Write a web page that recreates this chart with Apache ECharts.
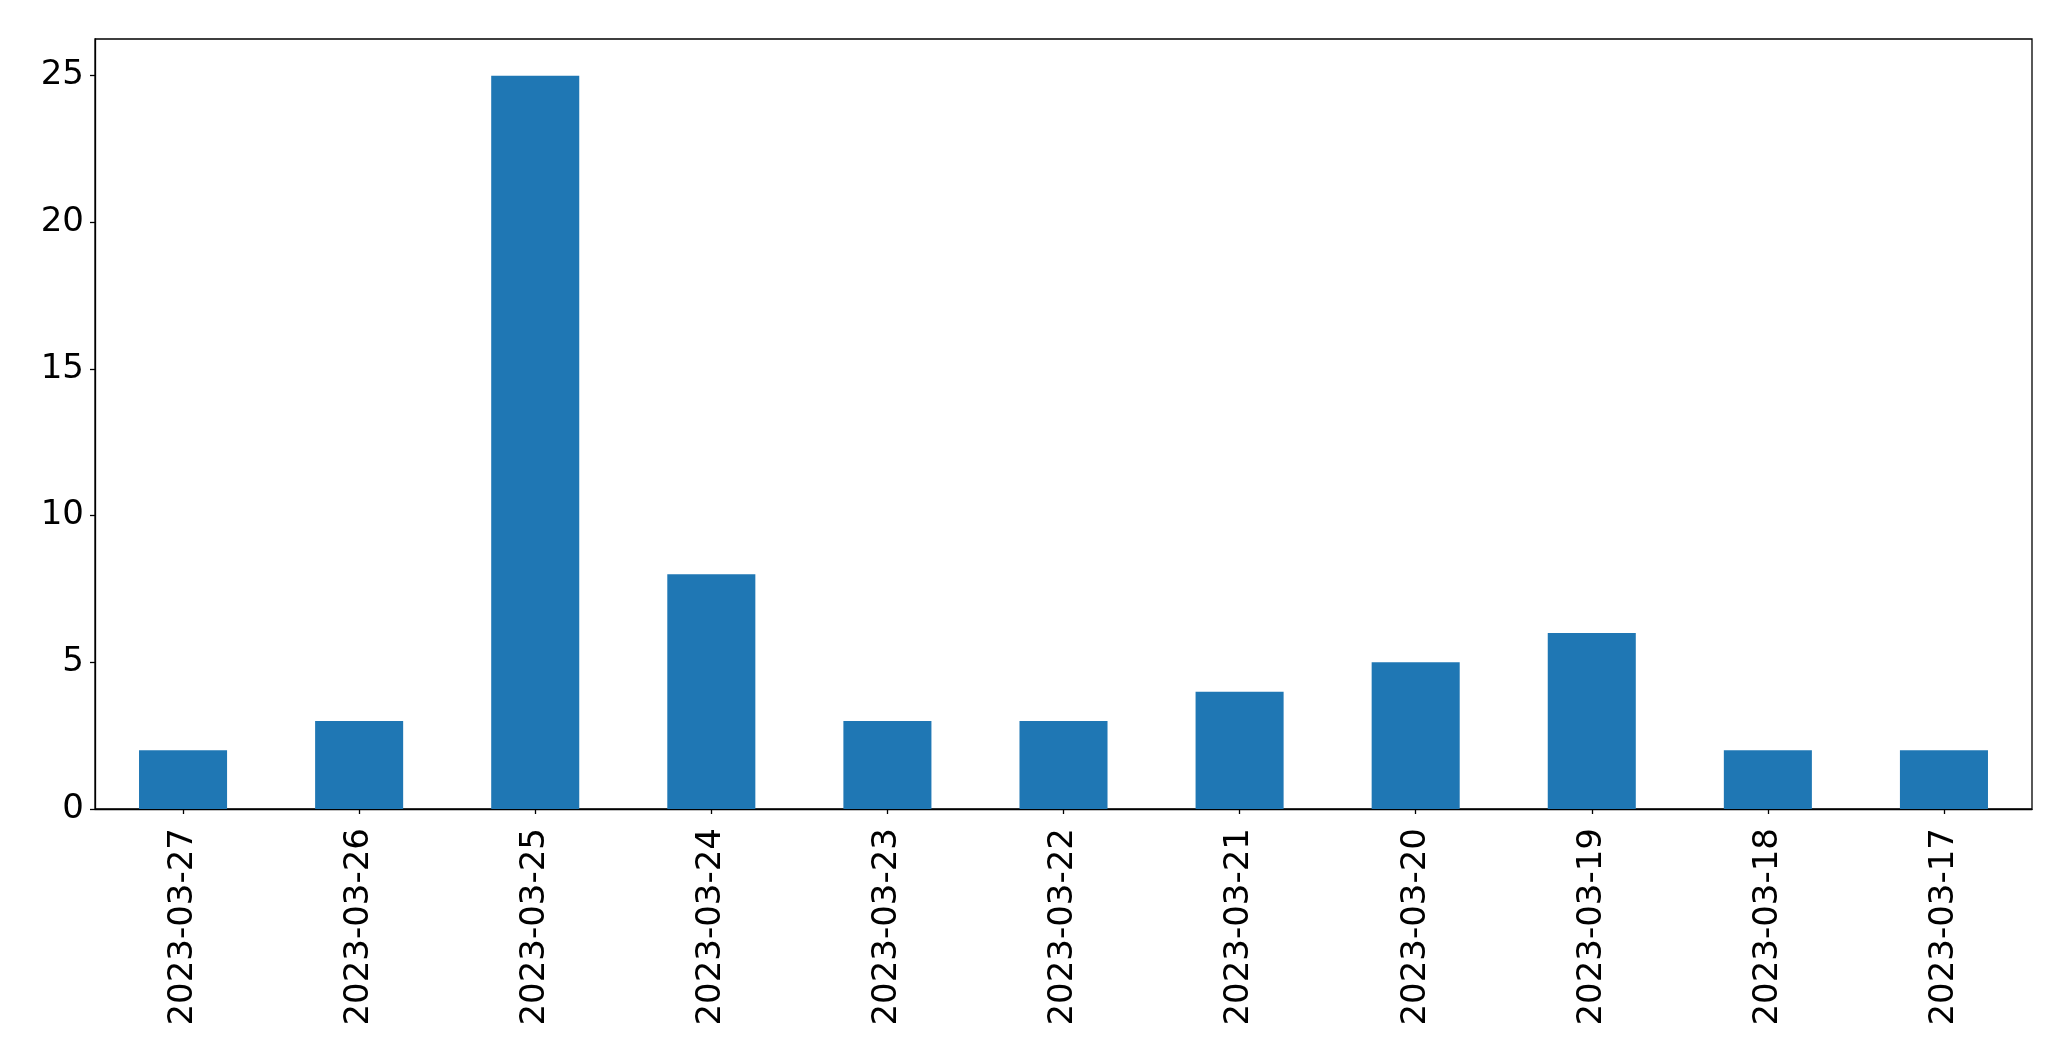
<!DOCTYPE html>
<html><head><meta charset="utf-8">
<script src="https://cdn.jsdelivr.net/npm/echarts@6/dist/echarts.min.js"></script>
<style>html,body{margin:0;padding:0;background:#fff}#c{width:2071px;height:1061px}</style>
</head><body><div id="c"></div>
<script>
const categories = ["2023-03-27","2023-03-26","2023-03-25","2023-03-24","2023-03-23","2023-03-22","2023-03-21","2023-03-20","2023-03-19","2023-03-18","2023-03-17"];
const values = [2,3,25,8,3,3,4,5,6,2,2];
const yMin = 0, yMax = 26.25, yInterval = 5;
const chart = echarts.init(document.getElementById('c'));
const font = "DejaVu Sans";
chart.setOption({
  animation: false,
  grid: {left: 95, right: 39, top: 39, bottom: 252, show: true, borderColor: '#000', borderWidth: 1.3, containLabel: false},
  xAxis: {
    type: 'category', data: categories,
    axisLine: {lineStyle: {color: '#000', width: 1.3}},
    axisTick: {show: true, alignWithLabel: true, length: 5, lineStyle: {color: '#000', width: 1.3}},
    axisLabel: {rotate: 90, margin: 19, color: '#000', fontSize: 34, fontFamily: font, interval: 0},
    splitLine: {show: false}
  },
  yAxis: {
    type: 'value', min: yMin, max: yMax, interval: yInterval,
    axisLine: {show: true, lineStyle: {color: '#000', width: 1.3}},
    axisTick: {show: true, length: 5, lineStyle: {color: '#000', width: 1.3}},
    axisLabel: {margin: 11, color: '#000', fontSize: 34, fontFamily: font, showMaxLabel: false},
    splitLine: {show: false}
  },
  series: [{type: 'bar', data: values, barWidth: '50%', itemStyle: {color: '#1f77b4'}}]
});
</script></body></html>
